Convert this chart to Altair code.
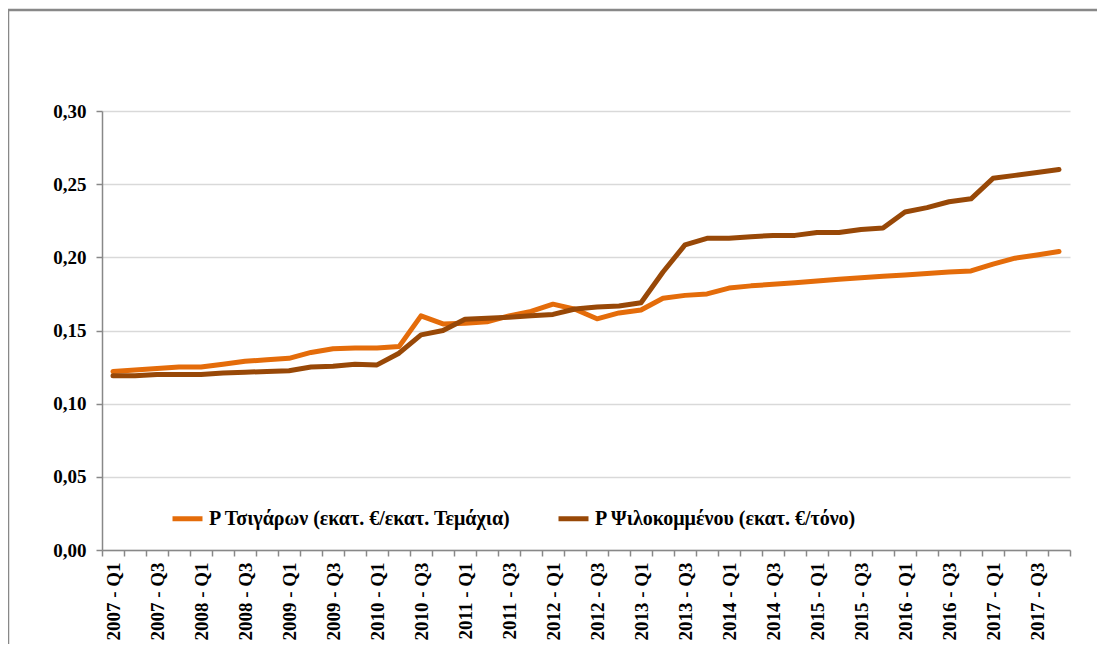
import altair as alt
import pandas as pd

years = ["2007", "2008", "2009", "2010", "2011", "2012", "2013", "2014", "2015", "2016", "2017"]
quarters = ["Q1", "Q2", "Q3", "Q4"]
periods = [f"{y} - {q}" for y in years for q in quarters]

series_names = [
    "Ρ Τσιγάρων (εκατ. €/εκατ. Τεμάχια)",
    "Ρ Ψιλοκομμένου (εκατ. €/τόνο)",
]
series_colors = ["#E46C0A", "#984807"]

tsigaron = [
    0.122, 0.123, 0.124, 0.125, 0.125, 0.127, 0.129, 0.130, 0.131, 0.135, 0.1375, 0.138,
    0.138, 0.139, 0.160, 0.1545, 0.155, 0.156, 0.160, 0.163, 0.168, 0.1645, 0.158, 0.162,
    0.164, 0.172, 0.174, 0.175, 0.179, 0.1805, 0.1816, 0.1827, 0.1839, 0.185, 0.186, 0.187,
    0.188, 0.189, 0.190, 0.1907, 0.1953, 0.1994, 0.2016, 0.204,
]
psilokommenou = [
    0.119, 0.119, 0.120, 0.120, 0.120, 0.121, 0.1215, 0.122, 0.1225, 0.125, 0.1255, 0.127,
    0.1265, 0.1345, 0.147, 0.150, 0.1577, 0.1584, 0.159, 0.160, 0.161, 0.1647, 0.166, 0.1668,
    0.169, 0.190, 0.2085, 0.213, 0.213, 0.214, 0.215, 0.215, 0.217, 0.217, 0.219, 0.220,
    0.231, 0.234, 0.238, 0.240, 0.254, 0.256, 0.258, 0.260,
]
y_ticks = [0.0, 0.05, 0.10, 0.15, 0.20, 0.25, 0.30]

rows = []
for i, p in enumerate(periods):
    rows.append({"period": p, "series": series_names[0], "value": tsigaron[i]})
    rows.append({"period": p, "series": series_names[1], "value": psilokommenou[i]})
df = pd.DataFrame(rows)

FONT = "Liberation Serif"

# guard against the extra (non-string) tick created by tickBand="extent"
x_label_expr = (
    "isString(datum.value) && (indexof(datum.value, 'Q1') >= 0 || indexof(datum.value, 'Q3') >= 0)"
    " ? datum.value : ''"
)
y_label_expr = "'0,' + (round(datum.value * 100) < 10 ? '0' : '') + round(datum.value * 100)"

lines = alt.Chart(df).mark_line(strokeWidth=5, strokeCap="round", strokeJoin="round").encode(
    x=alt.X(
        "period:O",
        bandPosition=0.5,
        scale=alt.Scale(type="band", domain=periods, paddingInner=0, paddingOuter=0),
        axis=alt.Axis(
            title=None,
            labelAngle=-90,
            labelExpr=x_label_expr,
            labelOverlap=False,
            labelFont=FONT,
            labelFontSize=19,
            labelFontWeight="bold",
            labelColor="black",
            labelPadding=6,
            tickBand="extent",
            tickColor="#888888",
            tickSize=6,
            tickWidth=1.5,
            domainColor="#888888",
            domainWidth=1.5,
            grid=False,
        ),
    ),
    y=alt.Y(
        "value:Q",
        scale=alt.Scale(domain=[0, 0.30], nice=False),
        axis=alt.Axis(
            title=None,
            values=y_ticks,
            labelExpr=y_label_expr,
            labelOverlap=False,
            labelFlush=False,
            labelFont=FONT,
            labelFontSize=19,
            labelFontWeight="bold",
            labelColor="black",
            labelPadding=10,
            tickColor="#888888",
            tickSize=6,
            tickWidth=1.5,
            domainColor="#888888",
            domainWidth=1.5,
            grid=True,
            gridColor="#D9D9D9",
            gridWidth=1.5,
        ),
    ),
    color=alt.Color(
        "series:N",
        scale=alt.Scale(domain=series_names, range=series_colors),
        legend=alt.Legend(
            title=None,
            orient="none",
            direction="horizontal",
            legendX=68,
            legendY=390,
            symbolType="stroke",
            symbolStrokeWidth=5,
            symbolSize=900,
            labelFont=FONT,
            labelFontSize=20,
            labelFontWeight="bold",
            labelColor="black",
            labelLimit=500,
            columnPadding=36,
            labelOffset=4,
        ),
    ),
)

frame_df = pd.DataFrame({"f": [0]})
frame_top = alt.Chart(frame_df).mark_rule(color="#888888", strokeWidth=2.5).encode(
    x=alt.value(-94), x2=alt.value(1010), y=alt.value(-101)
)
frame_left = alt.Chart(frame_df).mark_rule(color="#888888", strokeWidth=2.5).encode(
    x=alt.value(-94), y=alt.value(-101), y2=alt.value(560)
)

chart = alt.layer(frame_top, frame_left, lines).properties(
    width=968,
    height=439,
    padding={"left": 94, "top": 103, "right": 27, "bottom": 94},
    autosize=alt.AutoSizeParams(type="none"),
    title=alt.Title(
        text=["Εξέλιξη τιμών Τσιγάρων και Ψιλοκομμένου Καπνού", "(2007 - 2017)"],
        font=FONT,
        fontSize=26,
        fontWeight="bold",
        color="black",
        anchor="middle",
        dx=-28,
        lineHeight=35,
        offset=10,
    ),
).configure(background="white").configure_view(strokeWidth=0)

chart.save("out.html", embed_options={"renderer": "svg", "actions": False})
